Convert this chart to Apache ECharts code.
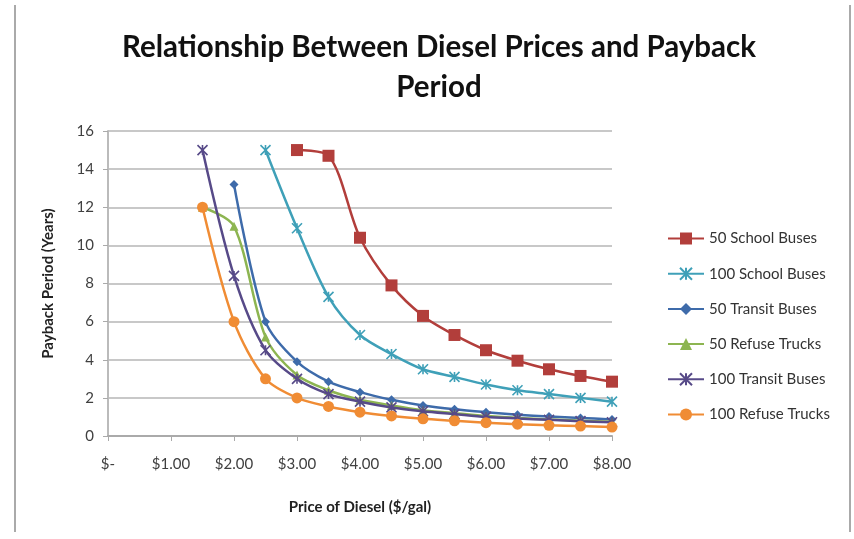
<!DOCTYPE html>
<html>
<head>
<meta charset="utf-8">
<script src="https://cdn.jsdelivr.net/npm/echarts@6/dist/echarts.min.js"></script>
<style>
html,body{margin:0;padding:0;background:#fff;}
#c{width:854px;height:539px;}
</style>
</head>
<body>
<div id="c"></div>
<script>
const titleText = 'Relationship Between Diesel Prices and Payback\nPeriod';
const xAxisName = 'Price of Diesel ($/gal)';
const yAxisName = 'Payback Period (Years)';
const prices = [1.5, 2.0, 2.5, 3.0, 3.5, 4.0, 4.5, 5.0, 5.5, 6.0, 6.5, 7.0, 7.5, 8.0];
const seriesNames = ['50 School Buses', '100 School Buses', '50 Transit Buses', '50 Refuse Trucks', '100 Transit Buses', '100 Refuse Trucks'];
const school50   = [null, null, null, 15.0, 14.7, 10.4, 7.9, 6.3, 5.3, 4.5, 3.95, 3.5, 3.15, 2.85];
const school100  = [null, null, 15.0, 10.9, 7.3, 5.3, 4.3, 3.5, 3.1, 2.7, 2.4, 2.2, 2.0, 1.8];
const transit50  = [null, 13.2, 6.0, 3.9, 2.85, 2.3, 1.9, 1.6, 1.4, 1.25, 1.12, 1.02, 0.95, 0.87];
const refuse50   = [12.0, 11.0, 5.2, 3.2, 2.4, 1.9, 1.6, 1.35, 1.2, 1.05, 0.95, 0.87, 0.8, 0.75];
const transit100 = [15.0, 8.4, 4.5, 3.0, 2.2, 1.8, 1.5, 1.3, 1.15, 1.0, 0.92, 0.85, 0.78, 0.72];
const refuse100  = [12.0, 6.0, 3.0, 2.0, 1.55, 1.25, 1.05, 0.9, 0.8, 0.7, 0.62, 0.56, 0.52, 0.47];

const allValues = [school50, school100, transit50, refuse50, transit100, refuse100];
const colors = ['#B23E3B', '#3FA0B8', '#3E6BAA', '#8DB551', '#574A88', '#F08C34'];
const symbols = [
  'rect',
  'path://M0,0L10,10M10,0L0,10M5,0L5,10',
  'diamond',
  'triangle',
  'path://M0,0L10,10M10,0L0,10M5,0L5,10',
  'circle'
];
const symbolSizes = [12, 10, 9, 9, 10, 11];
const FONT = 'Lato, "Open Sans", sans-serif';

const chart = echarts.init(document.getElementById('c'));
const series = seriesNames.map((name, i) => ({
  name: name,
  type: 'line',
  smooth: 0.3,
  data: prices.map((p, j) => [p, allValues[i][j]]),
  symbol: symbols[i],
  symbolSize: symbolSizes[i],
  showAllSymbol: true,
  lineStyle: { color: colors[i], width: 2.5 },
  itemStyle: { color: colors[i], borderColor: colors[i], borderWidth: symbols[i].startsWith('path') ? 1.6 : 0 },
  emphasis: { disabled: true },
  z: 2 + i
}));

chart.setOption({
  animation: false,
  backgroundColor: '#ffffff',
  title: {
    text: titleText,
    left: 434,
    textAlign: 'center',
    top: 22,
    textStyle: { fontFamily: FONT, fontSize: 29.5, fontWeight: 'bold', color: '#111', lineHeight: 40 }
  },
  graphic: [
    { type: 'line', shape: { x1: 15, y1: 5, x2: 15, y2: 532 }, style: { stroke: '#aaaaaa', lineWidth: 2 } },
    { type: 'line', shape: { x1: 850, y1: 5, x2: 850, y2: 532 }, style: { stroke: '#aaaaaa', lineWidth: 2 } }
  ],
  legend: {
    orient: 'vertical',
    left: 662,
    top: 226,
    itemGap: 20.2,
    itemWidth: 36,
    itemHeight: 15,
    data: seriesNames,
    textStyle: { fontFamily: FONT, fontSize: 15, color: '#333' }
  },
  grid: { left: 108, right: 242, top: 131, bottom: 103, containLabel: false },
  xAxis: {
    type: 'value',
    min: 0, max: 8, interval: 1,
    name: xAxisName,
    nameLocation: 'middle',
    nameGap: 64,
    nameTextStyle: { fontFamily: FONT, fontSize: 15, fontWeight: 'bold', color: '#222' },
    axisLine: { lineStyle: { color: '#aaaaaa', width: 2 } },
    axisTick: { show: true, length: 5, lineStyle: { color: '#aaaaaa' } },
    splitLine: { show: false },
    axisLabel: {
      fontFamily: FONT, fontSize: 15, color: '#404040', margin: 21,
      formatter: v => v === 0 ? '$-' : '$' + v.toFixed(2)
    }
  },
  yAxis: {
    type: 'value',
    min: 0, max: 16, interval: 2,
    name: yAxisName,
    nameLocation: 'middle',
    nameGap: 52,
    nameTextStyle: { fontFamily: FONT, fontSize: 15, fontWeight: 'bold', color: '#222' },
    axisLine: { show: true, lineStyle: { color: '#bbbbbb', width: 2 } },
    axisTick: { show: true, length: 5, lineStyle: { color: '#aaaaaa' } },
    splitLine: { lineStyle: { color: '#c8c8c8', width: 2 } },
    axisLabel: { fontFamily: FONT, fontSize: 15, color: '#404040', margin: 14 }
  },
  series: series
});
</script>
</body>
</html>
